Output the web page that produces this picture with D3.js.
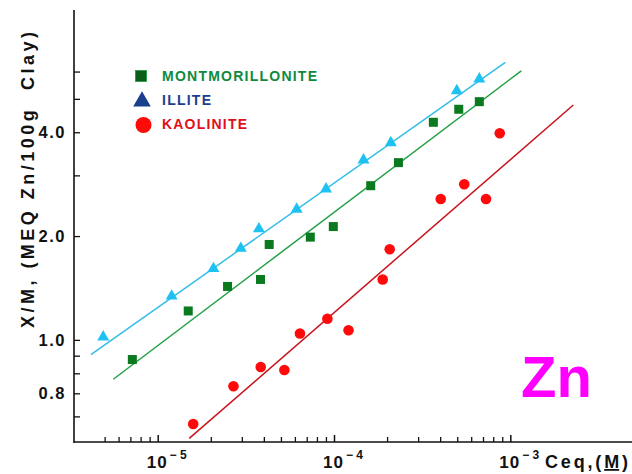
<!DOCTYPE html>
<html><head><meta charset="utf-8">
<script src="https://cdn.jsdelivr.net/npm/d3@7/dist/d3.min.js"></script>
<style>
html,body{margin:0;padding:0;background:#fff;}
svg{display:block;font-family:"Liberation Sans",Arial,Helvetica,sans-serif;font-weight:bold;}
</style></head><body>
<svg id="c" width="632" height="474"></svg>
<script>
// ---- data ----
const montX = [7.18e-6, 1.49e-5, 2.49e-5, 3.83e-5, 4.29e-5, 7.34e-5, 9.91e-5, 1.615e-4, 2.32e-4, 3.66e-4, 5.10e-4, 6.67e-4];
const montY = [0.877, 1.213, 1.429, 1.497, 1.891, 1.986, 2.131, 2.80, 3.266, 4.276, 4.664, 4.907];
const illX  = [4.91e-6, 1.20e-5, 2.07e-5, 2.96e-5, 3.75e-5, 6.14e-5, 9.01e-5, 1.47e-4, 2.10e-4, 4.97e-4, 6.67e-4];
const illY  = [1.02, 1.339, 1.609, 1.842, 2.098, 2.393, 2.740, 3.325, 3.73, 5.28, 5.71];
const kaoX  = [1.59e-5, 2.69e-5, 3.84e-5, 5.23e-5, 6.41e-5, 9.17e-5, 1.209e-4, 1.889e-4, 2.07e-4, 4.03e-4, 5.48e-4, 7.28e-4, 8.71e-4];
const kaoY  = [0.570, 0.734, 0.834, 0.818, 1.044, 1.152, 1.067, 1.497, 1.832, 2.563, 2.827, 2.563, 3.973];
// fitted lines (end points)
const montFitX = [5.60e-6, 1.154e-3], montFitY = [0.769, 6.03];
const illFitX  = [4.18e-6, 9.37e-4],  illFitY  = [0.906, 6.38];
const kaoFitX  = [1.51e-5, 2.277e-3], kaoFitY  = [0.518, 4.80];
// ticks
const yTickValues = [0.6, 0.7, 0.8, 0.9, 1, 2, 3, 4, 5, 6];
const yTickLabels = ["", "0.8", "", "", "1.0", "2.0", "", "4.0", "", ""];
const xMajor = [1e-5, 1e-4, 1e-3];
const xMajorExp = ["\u2212 5", "\u2212 4", "\u2212 3"];
const legendNames = ["MONTMORILLONITE", "ILLITE", "KAOLINITE"];

// ---- scales ----
const svg = d3.select("#c");
const x = d3.scaleLog().domain([3.33e-6, 4.9e-3]).range([73.5, 632]);
const y = d3.scaleLog().domain([0.504, 9.05]).range([442.5, 10]);

const C = {
  montPt: "#0b7a1e", montLine: "#22a046", montText: "#0e8a3e",
  illPt: "#1ec2f2", illLine: "#33bde8", illLeg: "#1a3f8f",
  kaoPt: "#ff0a0a", kaoLine: "#c8141c", kaoText: "#e0101a"
};

// ---- axes ----
const xMinor = x.ticks().filter(v => v >= 4.9e-6 && v <= 1.01e-3 && !xMajor.some(m => Math.abs(m - v) / m < 1e-6));
svg.append("g").attr("transform", "translate(0,442)")
  .call(d3.axisBottom(x).tickValues(xMinor).tickSize(-5).tickFormat(""))
  .call(g => g.select(".domain").remove())
  .call(g => g.selectAll("line").attr("stroke", "#111").attr("stroke-width", 1.3));
svg.append("g").attr("transform", "translate(0,442)")
  .call(d3.axisBottom(x).tickValues(xMajor).tickSize(-7).tickFormat(""))
  .call(g => g.select(".domain").remove())
  .call(g => g.selectAll("line").attr("stroke", "#111").attr("stroke-width", 1.5));

svg.append("g").attr("transform", "translate(74,0)")
  .call(d3.axisLeft(y).tickValues(yTickValues).tickSize(-6).tickFormat(""))
  .call(g => g.select(".domain").remove())
  .call(g => g.selectAll("line").attr("stroke", "#111").attr("stroke-width", 1.3));

// axis lines
svg.append("line").attr("x1", x.range()[0]).attr("x2", x.range()[1]).attr("y1", 442).attr("y2", 442)
  .attr("stroke", "#111").attr("stroke-width", 1.6);
svg.append("line").attr("x1", 74).attr("x2", 74).attr("y1", y.range()[1]).attr("y2", 442.8)
  .attr("stroke", "#111").attr("stroke-width", 1.6);

// y tick labels
svg.append("g").selectAll("text").data(yTickValues.map((v, i) => ({v, l: yTickLabels[i]})).filter(d => d.l))
  .join("text").attr("x", 66).attr("y", d => y(d.v)).attr("dy", "0.36em")
  .attr("text-anchor", "end").attr("font-size", 16.5).attr("letter-spacing", "1.5px").attr("fill", "#111")
  .text(d => d.l);

// x tick labels
const xl = svg.append("g").selectAll("text").data(xMajor).join("text")
  .attr("x", d => x(d) - 11).attr("y", 468).attr("font-size", 17).attr("fill", "#111");
xl.append("tspan").attr("letter-spacing", "1px").text("10");
xl.append("tspan").attr("font-size", 12).attr("dy", -9).attr("dx", 2).text((d, i) => xMajorExp[i]);

// x title
const xt = svg.append("text").attr("x", 545).attr("y", 468).attr("font-size", 18).attr("fill", "#111")
  .attr("textLength", 83).attr("lengthAdjust", "spacing");
xt.append("tspan").text("Ceq,(");
xt.append("tspan").attr("text-decoration", "underline").style("text-decoration", "underline").text("M");
xt.append("tspan").text(")");

// y title
svg.append("text").attr("transform", "translate(34,180) rotate(-90)")
  .attr("text-anchor", "middle").attr("font-size", 18).attr("fill", "#111")
  .attr("textLength", 296).attr("lengthAdjust", "spacing")
  .style("white-space", "pre")
  .text("X/M, (MEQ Zn/100g  Clay)");

// ---- fit lines ----
const line = d3.line().x(d => x(d[0])).y(d => y(d[1]));
const fits = [
  {xs: illFitX, ys: illFitY, c: C.illLine},
  {xs: montFitX, ys: montFitY, c: C.montLine},
  {xs: kaoFitX, ys: kaoFitY, c: C.kaoLine}
];
svg.append("g").selectAll("path").data(fits).join("path")
  .attr("d", f => line(f.xs.map((v, i) => [v, f.ys[i]])))
  .attr("fill", "none").attr("stroke", f => f.c).attr("stroke-width", 1.5);

// ---- markers ----
const pts = (xs, ys) => xs.map((v, i) => [v, ys[i]]);
svg.append("g").selectAll("path").data(pts(illX, illY)).join("path")
  .attr("transform", d => `translate(${x(d[0])},${y(d[1])})`)
  .attr("d", d3.symbol(d3.symbolTriangle, 62)).attr("fill", C.illPt);
svg.append("g").selectAll("rect").data(pts(montX, montY)).join("rect")
  .attr("x", d => x(d[0]) - 4.5).attr("y", d => y(d[1]) - 4.5).attr("width", 9).attr("height", 9)
  .attr("fill", C.montPt);
svg.append("g").selectAll("circle").data(pts(kaoX, kaoY)).join("circle")
  .attr("cx", d => x(d[0])).attr("cy", d => y(d[1])).attr("r", 5.3).attr("fill", C.kaoPt);

// ---- legend ----
const leg = svg.append("g");
leg.append("rect").attr("x", 135.5).attr("y", 70.5).attr("width", 11).attr("height", 11).attr("fill", "#0a5e18")
  .attr("stroke", "#1e9a40").attr("stroke-width", 0.8);
leg.append("path").attr("transform", "translate(142,101.5)").attr("d", d3.symbol(d3.symbolTriangle, 135)).attr("fill", C.illLeg);
leg.append("circle").attr("cx", 143.5).attr("cy", 125).attr("r", 8).attr("fill", C.kaoPt);
const legText = [
  {t: legendNames[0], y: 80.5, c: C.montText, w: 155},
  {t: legendNames[1], y: 104.5, c: C.illLeg, w: 49},
  {t: legendNames[2], y: 129, c: C.kaoText, w: 85}
];
leg.selectAll("text").data(legText).join("text")
  .attr("x", 162).attr("y", d => d.y).attr("font-size", 14).attr("fill", d => d.c)
  .attr("textLength", d => d.w).attr("lengthAdjust", "spacing").text(d => d.t);

// ---- Zn ----
svg.append("text").attr("x", 521).attr("y", 397).attr("font-size", 58).attr("fill", "#ff00ff").text("Zn");
</script>
</body></html>
